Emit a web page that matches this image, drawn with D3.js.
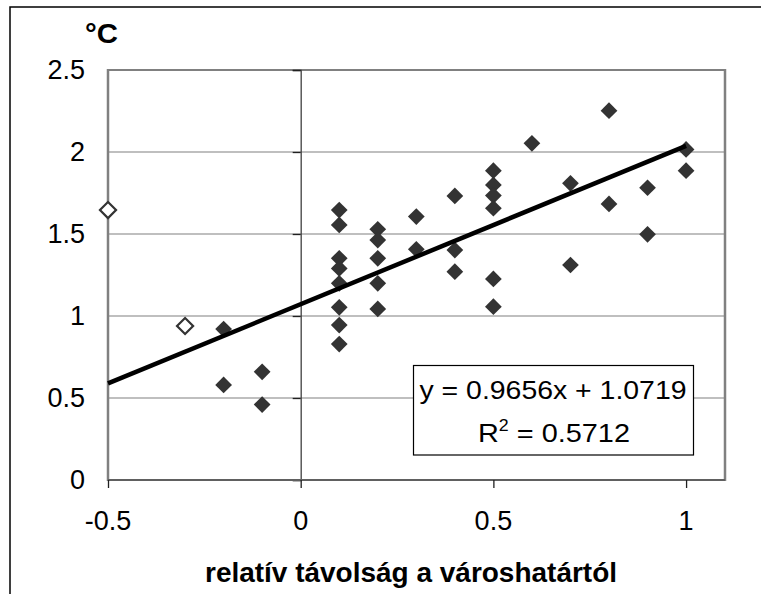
<!DOCTYPE html>
<html>
<head>
<meta charset="utf-8">
<script src="https://cdn.jsdelivr.net/npm/d3@7/dist/d3.min.js"></script>
<style>
html,body{margin:0;padding:0;background:#fff;}
svg{display:block;font-family:"Liberation Sans",Arial,sans-serif;}
</style>
</head>
<body>
<script>
// Data
const filledX = [-0.2,-0.2,-0.1,-0.1,
  0.1,0.1,0.1,0.1,0.1,0.1,0.1,0.1,
  0.2,0.2,0.2,0.2,0.2,
  0.3,0.3,
  0.4,0.4,0.4,
  0.5,0.5,0.5,0.5,0.5,0.5,
  0.6,
  0.7,0.7,
  0.8,0.8,
  0.9,0.9,
  1.0,1.0];
const filledY = [0.92,0.58,0.66,0.46,
  1.646,1.555,1.352,1.29,1.199,1.053,0.945,0.829,
  1.529,1.463,1.352,1.199,1.043,
  1.606,1.407,
  1.732,1.402,1.27,
  1.886,1.799,1.734,1.657,1.226,1.057,
  2.053,
  1.809,1.311,
  2.252,1.683,
  1.782,1.498,
  2.016,1.886];
const openX = [-0.5,-0.3];
const openY = [1.646,0.939];
const trendSlope = 0.9656;
const trendIntercept = 1.0719;
const trendRange = [-0.5, 1.0];
const xTicks = [-0.5,0,0.5,1];
const yTicks = [0,0.5,1,1.5,2,2.5];
const eqLine1 = "y = 0.9656x + 1.0719";
const eqR2 = "0.5712";
const yUnit = "°C";
const xTitle = "relatív távolság a városhatártól";

const W = 761, H = 594;
const svg = d3.select("body").append("svg").attr("width", W).attr("height", H);

// outer chart frame (only top/left visible in crop)
svg.append("path").attr("d",`M10,${H}V7H${W}`)
  .attr("fill","none").attr("stroke","#000").attr("stroke-width",1.5);

const x = d3.scaleLinear().domain([-0.5,1.101]).range([108,725]);
const y = d3.scaleLinear().domain([0,2.5]).range([480,70]);

// horizontal gridlines
svg.append("g").selectAll("line").data(yTicks.filter(d=>d>0)).join("line")
  .attr("x1",x(-0.5)).attr("x2",x(1.101))
  .attr("y1",d=>y(d)).attr("y2",d=>y(d))
  .attr("stroke","#808080").attr("stroke-width",d=>d===2.5?2:1.2);

// plot borders left/right
svg.append("line").attr("x1",x(-0.5)).attr("x2",x(-0.5)).attr("y1",y(2.5)-1).attr("y2",y(0)+1)
  .attr("stroke","#808080").attr("stroke-width",2.5);
svg.append("line").attr("x1",x(1.101)).attr("x2",x(1.101)).attr("y1",y(2.5)-1).attr("y2",y(0)+1)
  .attr("stroke","#808080").attr("stroke-width",2.5);

// vertical axis at x=0
const yAxis = d3.axisLeft(y).tickValues(yTicks).tickSize(8).tickFormat("");
svg.append("g").attr("transform",`translate(${x(0)},0)`).call(yAxis)
  .call(g=>{g.select(".domain").attr("stroke","#404040").attr("stroke-width",1.3);
            g.selectAll(".tick line").attr("stroke","#202020").attr("stroke-width",1.3);});

// horizontal axis at y=0
const xAxis = d3.axisBottom(x).tickValues(xTicks).tickSize(8).tickFormat("");
svg.append("g").attr("transform",`translate(0,${y(0)})`).call(xAxis)
  .call(g=>{g.select(".domain").attr("d",`M${x(-0.5)},0H${x(1.101)}`).attr("stroke","#606060").attr("stroke-width",2);
            g.selectAll(".tick line").attr("stroke","#202020").attr("stroke-width",1.3);});

// y tick labels
svg.append("g").selectAll("text").data(yTicks).join("text")
  .attr("x",85).attr("y",d=>y(d)+9).attr("text-anchor","end")
  .attr("font-size",27).attr("fill","#000").text(d=>d3.format("")(d));

// x tick labels
svg.append("g").selectAll("text").data(xTicks).join("text")
  .attr("x",d=>x(d)).attr("y",530).attr("text-anchor","middle")
  .attr("font-size",27).attr("fill","#000").text(d=>d);

// unit
svg.append("text").attr("x",85).attr("y",43).attr("font-size",27).attr("font-weight","bold")
  .attr("textLength",33).attr("lengthAdjust","spacingAndGlyphs").text(yUnit);

// axis title
svg.append("text").attr("x",411).attr("y",582).attr("text-anchor","middle")
  .attr("font-size",28).attr("font-weight","bold")
  .attr("textLength",412).attr("lengthAdjust","spacingAndGlyphs").text(xTitle);

// points
const filled = filledX.map((v,i)=>({x:v,y:filledY[i]}));
const open = openX.map((v,i)=>({x:v,y:openY[i]}));
const sq = d3.symbol(d3.symbolSquare, 140);
svg.append("g").selectAll("path").data(filled).join("path")
  .attr("d",sq).attr("transform",d=>`translate(${x(d.x)},${y(d.y)}) rotate(45)`)
  .attr("fill","#333");
const sqo = d3.symbol(d3.symbolSquare, 130);
svg.append("g").selectAll("path").data(open).join("path")
  .attr("d",sqo).attr("transform",d=>`translate(${x(d.x)},${y(d.y)}) rotate(45)`)
  .attr("fill","#fff").attr("stroke","#333").attr("stroke-width",2.2);

// trend line
svg.append("line")
  .attr("x1",x(trendRange[0])).attr("y1",y(trendSlope*trendRange[0]+trendIntercept))
  .attr("x2",x(trendRange[1])).attr("y2",y(trendSlope*trendRange[1]+trendIntercept))
  .attr("stroke","#000").attr("stroke-width",4.5);

// equation box
svg.append("rect").attr("x",413.5).attr("y",365.5).attr("width",280).attr("height",89.5)
  .attr("fill","#fff").attr("stroke","#000").attr("stroke-width",1.2);
svg.append("text").attr("x",553).attr("y",398.5).attr("text-anchor","middle")
  .attr("font-size",26).attr("textLength",267).attr("lengthAdjust","spacingAndGlyphs").text(eqLine1);
const t2 = svg.append("text").attr("x",554).attr("y",442).attr("text-anchor","middle")
  .attr("font-size",26).attr("textLength",152).attr("lengthAdjust","spacingAndGlyphs");
t2.append("tspan").text("R");
t2.append("tspan").attr("font-size",16).attr("dy",-11).text("2");
t2.append("tspan").attr("dy",11).text(" = " + eqR2);
</script>
</body>
</html>
